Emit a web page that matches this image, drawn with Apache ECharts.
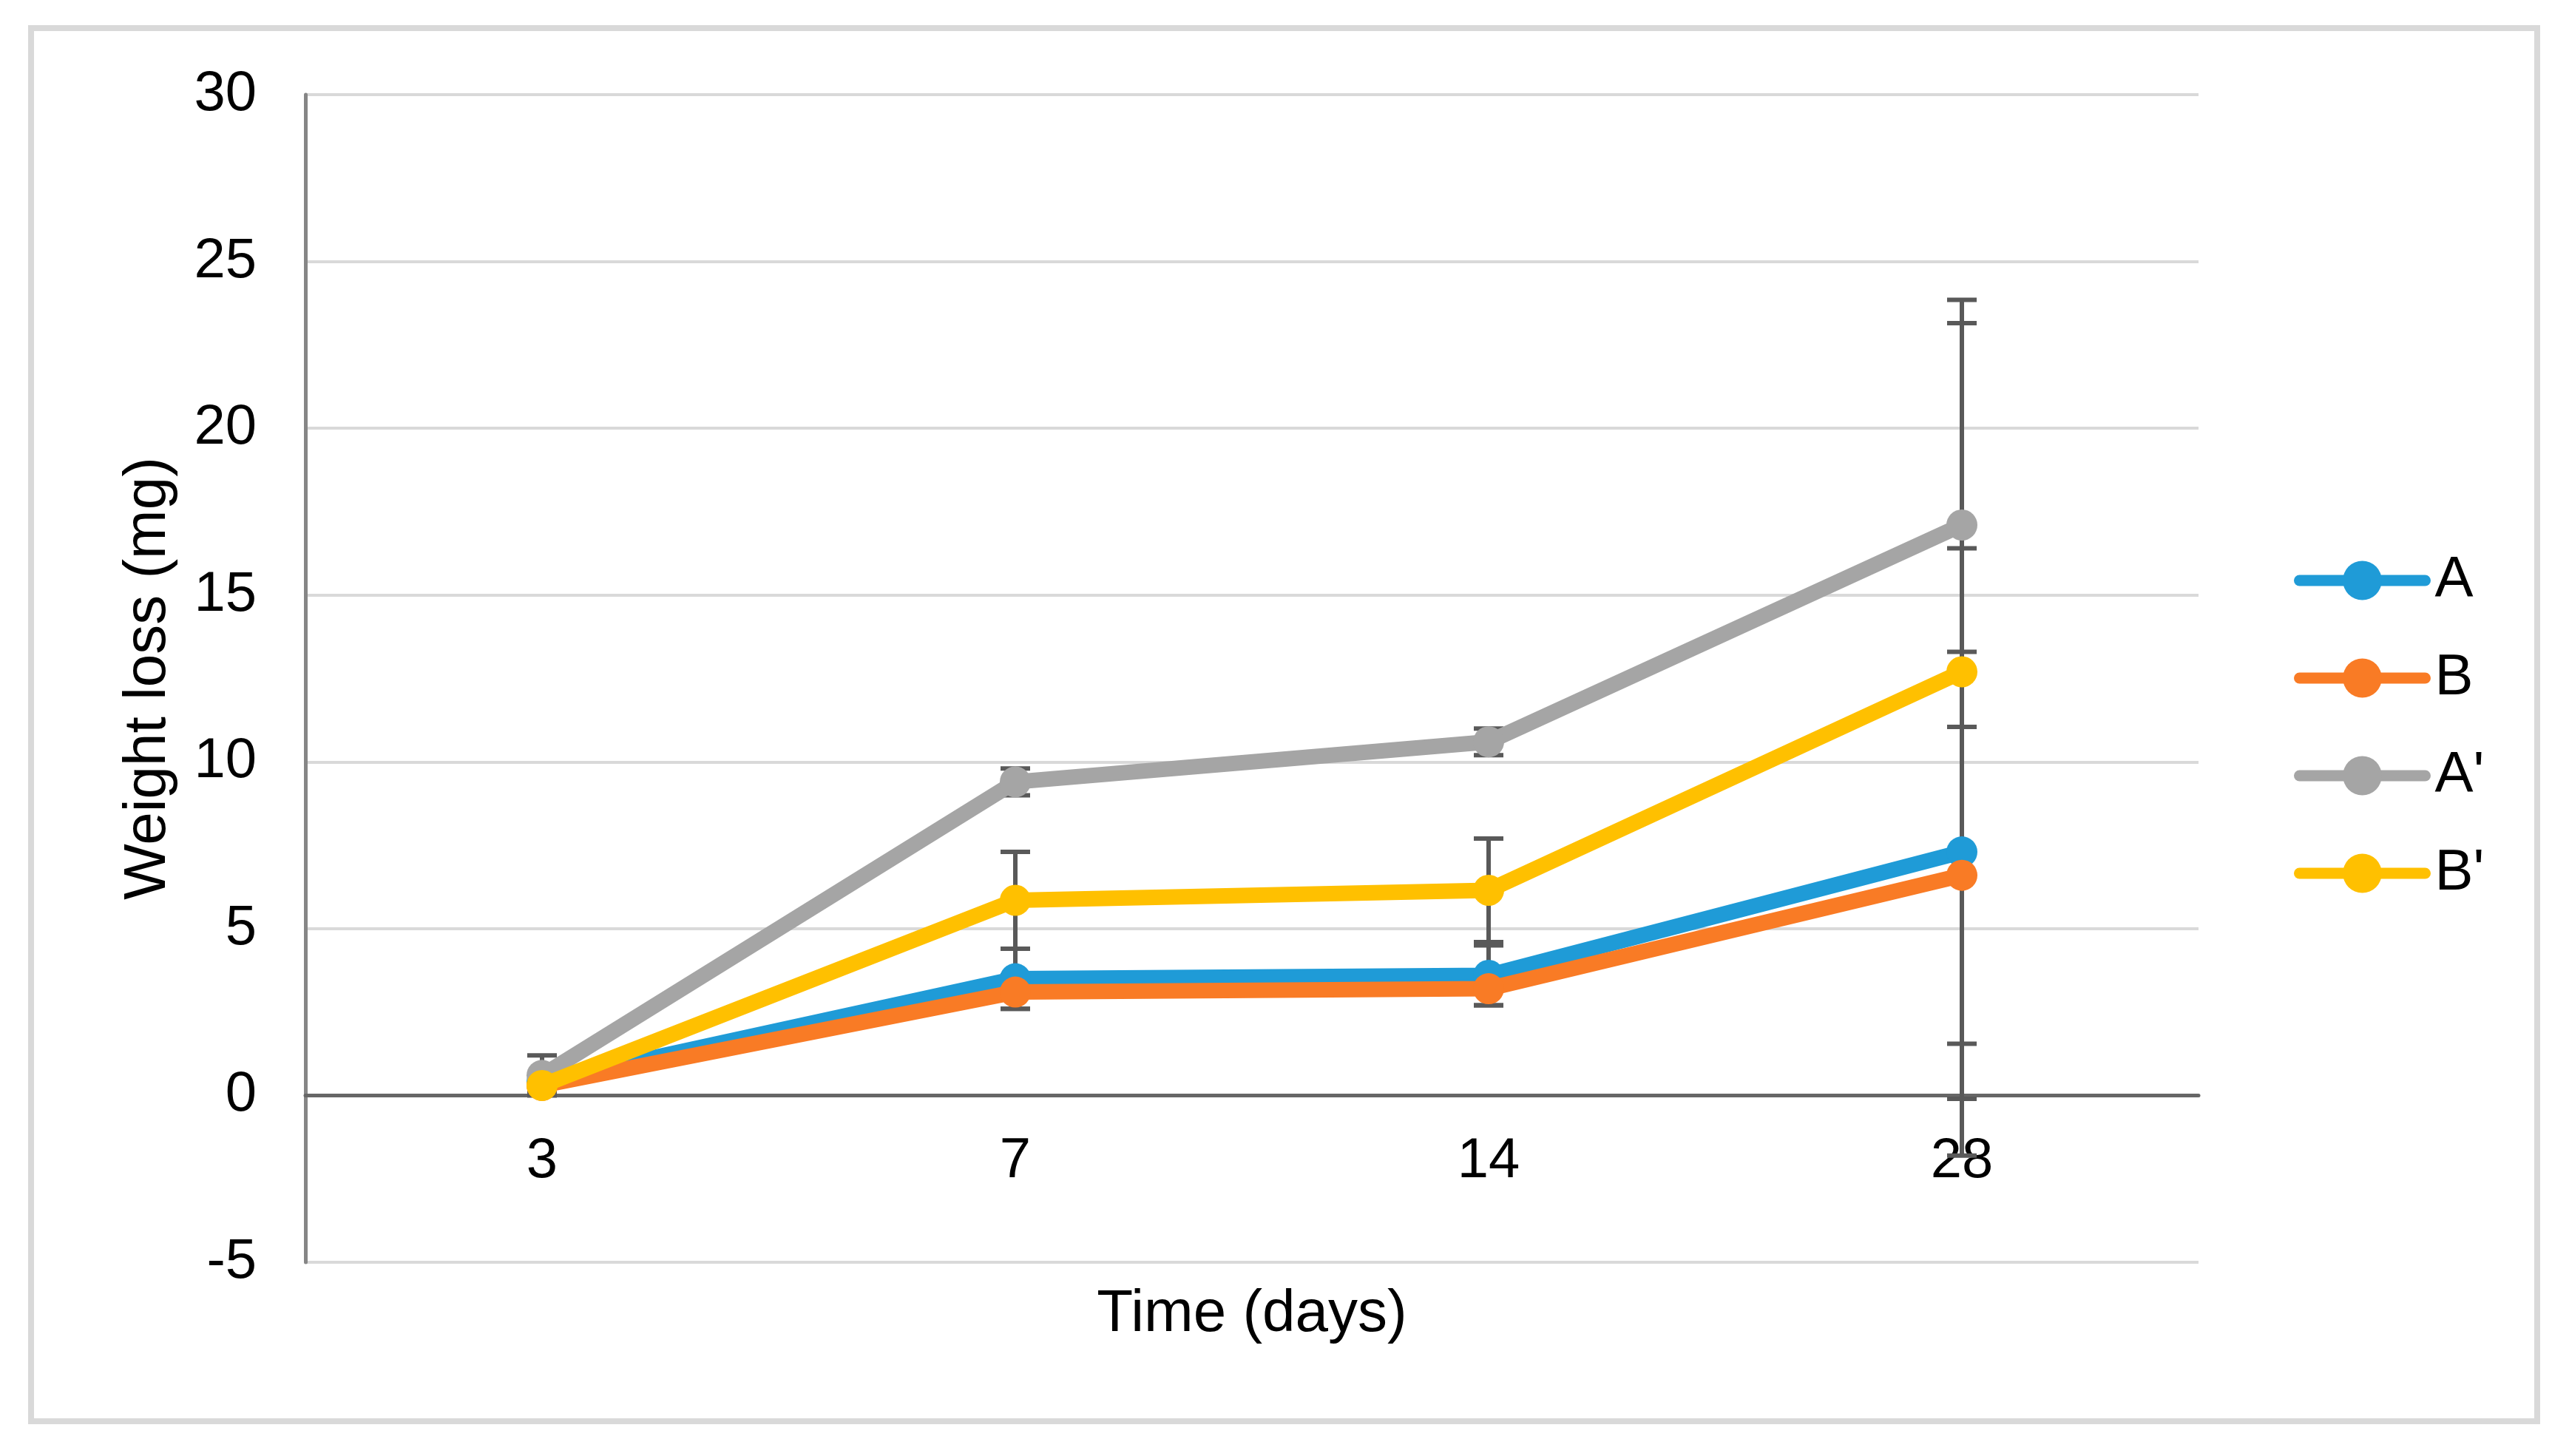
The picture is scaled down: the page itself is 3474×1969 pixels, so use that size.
<!DOCTYPE html>
<html>
<head>
<meta charset="utf-8">
<script src="https://cdn.jsdelivr.net/npm/echarts@6/dist/echarts.min.js"></script>
<style>
html,body{margin:0;padding:0;background:#fff;}
#chart{width:3474px;height:1969px;}
</style>
</head>
<body>
<div id="chart"></div>
<script>
var days = ['3', '7', '14', '28'];
var seriesNames = ['A', 'B', "A'", "B'"];
var valA = [0.4, 3.5, 3.6, 7.3];
var errA = [0.2, 0.9, 0.9, 9.1];
var valB = [0.3, 3.1, 3.2, 6.6];
var errB = [0.2, 0.5, 0.5, 6.7];
var valA2 = [0.6, 9.4, 10.6, 17.1];
var errA2 = [0.6, 0.4, 0.4, 6.05];
var valB2 = [0.3, 5.85, 6.15, 12.7];
var errB2 = [0.2, 1.45, 1.55, 11.15];
var yTicks = [-5, 0, 5, 10, 15, 20, 25, 30];

var colors = ['#1f9bd7', '#f97b25', '#a5a5a5', '#ffc000'];
var vals = [valA, valB, valA2, valB2];
var errs = [errA, errB, errA2, errB2];

var FONT = 'Liberation Sans, Arial, sans-serif';
var GRID_TOP = 128, GRID_BOTTOM = 262, H = 1969;
var Y_MIN = -5, Y_MAX = 30;
var plotH = H - GRID_TOP - GRID_BOTTOM;
var zeroOffset = plotH * (0 - Y_MIN) / (Y_MAX - Y_MIN);

var chart = echarts.init(document.getElementById('chart'));

function errData(v, e) {
  return v.map(function (y, i) { return [i, y - e[i], y + e[i]]; });
}
function renderErr(params, api) {
  var i = api.value(0);
  var lo = api.coord([i, api.value(1)]);
  var hi = api.coord([i, api.value(2)]);
  var hw = 20;
  var st = { stroke: '#595959', lineWidth: 6 };
  return {
    type: 'group',
    children: [
      { type: 'line', shape: { x1: hi[0], y1: hi[1], x2: lo[0], y2: lo[1] }, style: st },
      { type: 'line', shape: { x1: hi[0] - hw, y1: hi[1], x2: hi[0] + hw, y2: hi[1] }, style: st },
      { type: 'line', shape: { x1: lo[0] - hw, y1: lo[1], x2: lo[0] + hw, y2: lo[1] }, style: st }
    ]
  };
}

var series = [];
seriesNames.forEach(function (n, k) {
  series.push({
    type: 'custom',
    name: n + '_err',
    renderItem: renderErr,
    data: errData(vals[k], errs[k]),
    encode: { x: 0, y: [1, 2] },
    z: 1,
    silent: true
  });
});
seriesNames.forEach(function (n, k) {
  series.push({
    type: 'line',
    name: n,
    data: vals[k],
    symbol: 'circle',
    symbolSize: 42,
    showSymbol: true,
    lineStyle: { color: colors[k], width: 21, cap: 'round', join: 'round' },
    itemStyle: { color: colors[k] },
    z: 2 + k
  });
});

chart.setOption({
  animation: false,
  backgroundColor: '#ffffff',
  graphic: [{
    type: 'rect',
    shape: { x: 42, y: 38, width: 3389, height: 1884 },
    style: { fill: 'none', stroke: '#d9d9d9', lineWidth: 8 },
    z: 0
  }],
  grid: { left: 413, right: 501, top: GRID_TOP, bottom: GRID_BOTTOM, containLabel: false, outerBoundsMode: 'none' },
  legend: {
    data: seriesNames,
    orient: 'vertical',
    left: 3097,
    top: 740,
    itemWidth: 170,
    itemHeight: 66,
    itemGap: 52,
    lineStyle: { width: 15, cap: 'round' },
    textStyle: { fontFamily: FONT, fontSize: 78, color: '#000', lineHeight: 80, padding: [0, 0, 0, 8] }
  },
  xAxis: {
    type: 'category',
    data: days,
    boundaryGap: true,
    position: 'bottom',
    offset: -zeroOffset,
    axisLine: { onZero: false, lineStyle: { color: '#666666', width: 5 } },
    axisTick: { show: false },
    axisLabel: { fontFamily: FONT, fontSize: 76, color: '#000', margin: 52 },
    splitLine: { show: false },
    name: 'Time (days)',
    nameLocation: 'middle',
    nameGap: 257,
    nameTextStyle: { fontFamily: FONT, fontSize: 80, color: '#000' }
  },
  yAxis: {
    type: 'value',
    min: Y_MIN,
    max: Y_MAX,
    interval: 5,
    axisLine: { show: true, onZero: false, lineStyle: { color: '#868686', width: 5 } },
    axisTick: { show: false },
    axisLabel: {
      fontFamily: FONT, fontSize: 76, color: '#000', margin: 66,
      formatter: function (v) { return yTicks.indexOf(v) >= 0 ? String(v) : ''; }
    },
    splitLine: { show: true, lineStyle: { color: '#d9d9d9', width: 4 } },
    name: 'Weight loss (mg)',
    nameLocation: 'middle',
    nameGap: 172,
    nameRotate: 90,
    nameTextStyle: { fontFamily: FONT, fontSize: 80, color: '#000' }
  },
  series: series
});
</script>
</body>
</html>
